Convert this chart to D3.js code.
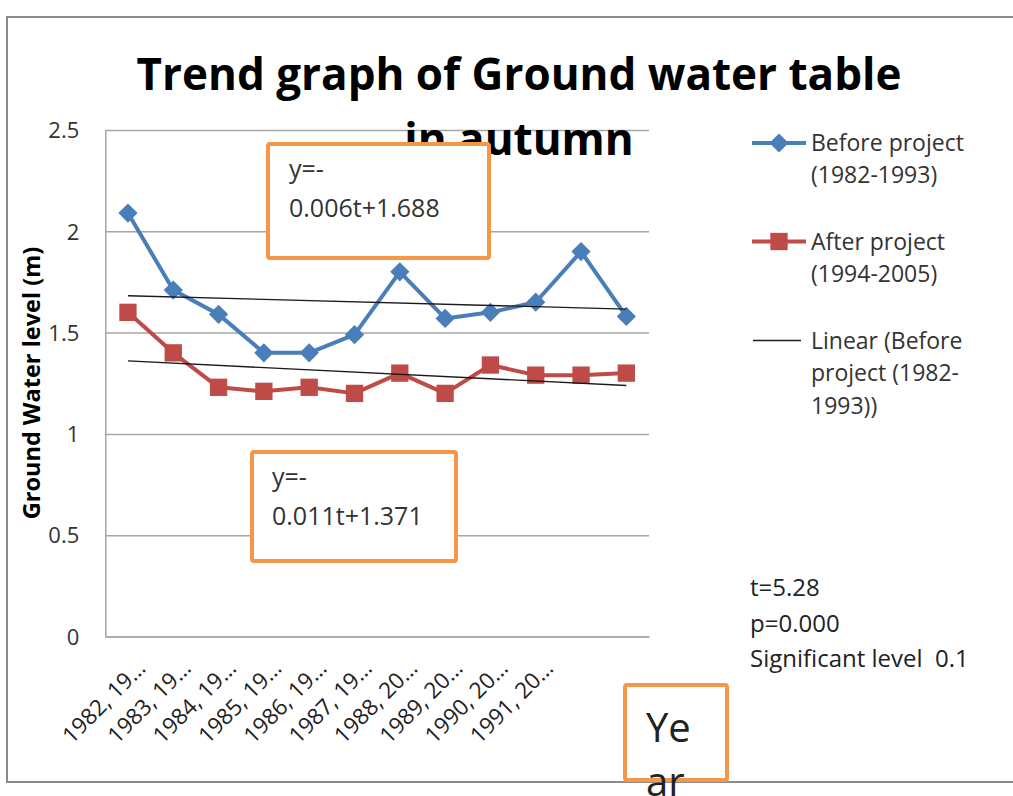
<!DOCTYPE html>
<html>
<head>
<meta charset="utf-8">
<script src="https://cdn.jsdelivr.net/npm/d3@7"></script>
<style>
  body { margin: 0; background: #fff; }
  svg { display: block; font-family: "Open Sans", sans-serif; }
</style>
</head>
<body>
<div id="chart"></div>
<script>
// data
const categories = ["1982, 1994", "1983, 1995", "1984, 1996", "1985, 1997", "1986, 1998", "1987, 1999",
                    "1988, 2000", "1989, 2001", "1990, 2002", "1991, 2003", "1992, 2004", "1993, 2005"];
const tickLabels = ["1982, 19…", "1983, 19…", "1984, 19…", "1985, 19…", "1986, 19…", "1987, 19…",
                    "1988, 20…", "1989, 20…", "1990, 20…", "1991, 20…", "", ""];
const beforeValues = [2.09, 1.71, 1.59, 1.40, 1.40, 1.49, 1.80, 1.57, 1.60, 1.65, 1.90, 1.58];
const afterValues  = [1.60, 1.40, 1.23, 1.21, 1.23, 1.20, 1.30, 1.20, 1.34, 1.29, 1.29, 1.30];
const yTicks = [0, 0.5, 1, 1.5, 2, 2.5];
// trend equations y = slope*t + intercept
const trendSlopes = [-0.006, -0.011];
const trendIntercepts = [1.688, 1.371];
const legendLabels = [["Before project", "(1982-1993)"], ["After project", "(1994-2005)"],
                      ["Linear (Before", "project (1982-", "1993))"]];
const statLines = ["t=5.28", "p=0.000", "Significant level\u00A0 0.1"];

const width = 1013, height = 796;
const margin = {left: 105.3, right: 364, top: 130, bottom: 159.5};
const plotW = width - margin.left - margin.right;
const plotH = height - margin.top - margin.bottom;
const blue = "#4A7EBB", red = "#BE4B48", orange = "#F79646";

const svg = d3.select("#chart").append("svg")
    .attr("width", width)
    .attr("height", height);

// outer chart border
svg.append("rect")
    .attr("x", 7).attr("y", 17)
    .attr("width", 1030).attr("height", 765)
    .attr("fill", "#fff")
    .attr("stroke", "#8c8c8c")
    .attr("stroke-width", 2);

const g = svg.append("g")
    .attr("transform", "translate(" + margin.left + "," + margin.top + ")");

const x = d3.scaleBand().domain(categories).range([0, plotW]);
const y = d3.scaleLinear().domain([0, 2.5]).range([plotH, 0]);
const cx = (d, i) => x(categories[i]) + x.bandwidth() / 2;

// Y axis with gridlines
const yAxis = g.append("g")
    .call(d3.axisLeft(y).tickValues(yTicks).tickSize(-plotW).tickSizeOuter(0)
      .tickPadding(26).tickFormat(d3.format("")));
yAxis.selectAll(".tick line").attr("stroke", "#a6a6a6").attr("stroke-width", 1.5);
yAxis.select(".domain").attr("stroke", "#a6a6a6").attr("stroke-width", 1.5);
yAxis.selectAll("text")
    .attr("font-size", 22).attr("fill", "#333").attr("dy", "0.35em")
    .attr("font-family", "Open Sans");

// X axis
const xAxis = g.append("g")
    .attr("transform", "translate(0," + plotH + ")")
    .call(d3.axisBottom(x).tickSize(0).tickSizeOuter(0).tickFormat((d, i) => tickLabels[i]));
xAxis.select(".domain").attr("stroke", "#a6a6a6").attr("stroke-width", 1.5);
xAxis.selectAll("text")
    .attr("y", 0).attr("dy", 0)
    .attr("text-anchor", "end")
    .attr("transform", "translate(19,33) rotate(-45)")
    .attr("font-size", 22.5).attr("fill", "#222")
    .attr("font-family", "Open Sans");

// title (drawn over the gridlines)
const title = svg.append("text")
    .attr("text-anchor", "middle")
    .attr("font-size", 44).attr("font-weight", "bold").attr("fill", "#000");
title.append("tspan").attr("x", 519).attr("y", 90).text("Trend graph of Ground water table");
title.append("tspan").attr("x", 519).attr("y", 155).text("in autumn");

// y axis title
svg.append("text")
    .attr("transform", "translate(40,383) rotate(-90)")
    .attr("text-anchor", "middle")
    .attr("font-size", 23.5).attr("font-weight", "bold").attr("fill", "#000")
    .text("Ground Water level (m)");

// series
const line = d3.line().x(cx).y(d => y(d));
const diamond = d3.symbol(d3.symbolSquare, 185);
const square = d3.symbol(d3.symbolSquare, 300);

g.append("path").datum(beforeValues)
    .attr("d", line).attr("fill", "none").attr("stroke", blue).attr("stroke-width", 4)
    .attr("stroke-linejoin", "round");
g.selectAll(".before").data(beforeValues).join("path")
    .attr("class", "before")
    .attr("d", diamond)
    .attr("transform", (d, i) => "translate(" + cx(d, i) + "," + y(d) + ") rotate(45)")
    .attr("fill", blue);

g.append("path").datum(afterValues)
    .attr("d", line).attr("fill", "none").attr("stroke", red).attr("stroke-width", 4)
    .attr("stroke-linejoin", "round");
g.selectAll(".after").data(afterValues).join("path")
    .attr("class", "after")
    .attr("d", square)
    .attr("transform", (d, i) => "translate(" + cx(d, i) + "," + y(d) + ")")
    .attr("fill", red);

// trend lines from the equations, t = 1..12
const tFirst = 1, tLast = categories.length;
trendSlopes.forEach(function(s, k) {
  const b = trendIntercepts[k];
  g.append("line")
      .attr("x1", cx(null, tFirst - 1)).attr("y1", y(s * tFirst + b))
      .attr("x2", cx(null, tLast - 1)).attr("y2", y(s * tLast + b))
      .attr("stroke", "#1a1a1a").attr("stroke-width", 1.3);
});

// equation boxes
function textBox(bx, by, bw, bh, lines, size, tx, baselines) {
  svg.append("rect")
      .attr("x", bx).attr("y", by).attr("width", bw).attr("height", bh)
      .attr("rx", 2)
      .attr("fill", "#fff").attr("stroke", orange).attr("stroke-width", 4);
  lines.forEach(function(t, i) {
    svg.append("text")
        .attr("x", tx).attr("y", baselines[i])
        .attr("font-size", size).attr("fill", "#333")
        .text(t);
  });
}
textBox(268, 144, 221, 114, ["y=-", "0.006t+1.688"], 25, 289, [178, 217]);
textBox(252, 452, 204, 109, ["y=-", "0.011t+1.371"], 25, 272, [486, 525]);

// legend
const legend = svg.append("g");
const legendY = [143, 241.5, 340.5];
const legendBase = [150.5, 249.5, 348.5];
legend.append("line").attr("x1", 752).attr("x2", 806).attr("y1", legendY[0]).attr("y2", legendY[0])
    .attr("stroke", blue).attr("stroke-width", 4);
legend.append("path").attr("d", diamond)
    .attr("transform", "translate(779," + legendY[0] + ") rotate(45)").attr("fill", blue);
legend.append("line").attr("x1", 752).attr("x2", 806).attr("y1", legendY[1]).attr("y2", legendY[1])
    .attr("stroke", red).attr("stroke-width", 4);
legend.append("path").attr("d", square)
    .attr("transform", "translate(779," + legendY[1] + ")").attr("fill", red);
legend.append("line").attr("x1", 753).attr("x2", 801).attr("y1", legendY[2]).attr("y2", legendY[2])
    .attr("stroke", "#1a1a1a").attr("stroke-width", 1.3);
legendLabels.forEach(function(lines, k) {
  lines.forEach(function(t, i) {
    legend.append("text")
        .attr("x", 811).attr("y", legendBase[k] + i * 32.5)
        .attr("font-size", 23).attr("fill", "#333")
        .text(t);
  });
});

// statistics note
statLines.forEach(function(t, i) {
  svg.append("text")
      .attr("x", 750).attr("y", 596 + i * 35.7)
      .attr("font-size", 24).attr("fill", "#222")
      .text(t);
});

// "Year" axis label box
svg.append("rect")
    .attr("x", 625).attr("y", 685).attr("width", 102).attr("height", 95)
    .attr("rx", 2)
    .attr("fill", "#fff").attr("stroke", orange).attr("stroke-width", 4);
svg.append("text").attr("x", 646).attr("y", 742)
    .attr("font-size", 40).attr("fill", "#222").text("Ye");
svg.append("text").attr("x", 646).attr("y", 796)
    .attr("font-size", 40).attr("fill", "#222").text("ar");
</script>
</body>
</html>
